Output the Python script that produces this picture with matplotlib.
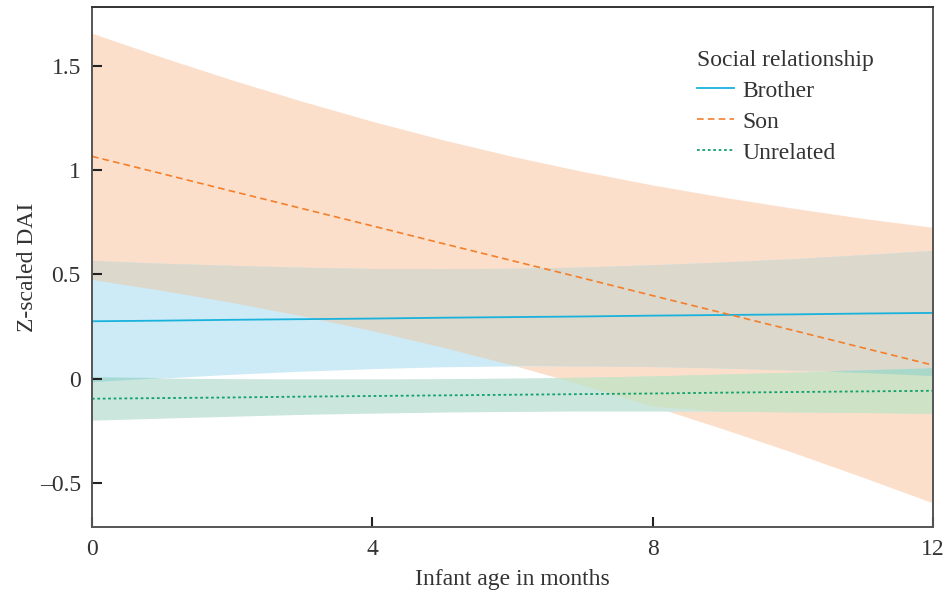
import numpy as np
import matplotlib
matplotlib.use("Agg")
import matplotlib.pyplot as plt

# values, one per month
age = [0, 1, 2, 3, 4, 5, 6, 7, 8, 9, 10, 11, 12]

brother_fit = [0.275, 0.278, 0.282, 0.285, 0.288, 0.292, 0.295, 0.298, 0.302, 0.305, 0.308, 0.312, 0.315]
brother_hi = [0.567, 0.553, 0.543, 0.534, 0.528, 0.527, 0.529, 0.535, 0.546, 0.559, 0.575, 0.594, 0.615]
brother_lo = [-0.017, 0.003, 0.021, 0.036, 0.048, 0.057, 0.061, 0.061, 0.058, 0.051, 0.041, 0.030, 0.015]

son_fit = [1.065, 0.982, 0.898, 0.815, 0.732, 0.648, 0.565, 0.482, 0.398, 0.315, 0.232, 0.148, 0.065]
son_hi = [1.655, 1.540, 1.431, 1.329, 1.233, 1.145, 1.065, 0.993, 0.928, 0.870, 0.817, 0.768, 0.725]
son_lo = [0.475, 0.423, 0.365, 0.301, 0.230, 0.151, 0.065, -0.029, -0.132, -0.240, -0.353, -0.472, -0.595]

unrel_fit = [-0.096, -0.093, -0.090, -0.086, -0.083, -0.080, -0.077, -0.074, -0.071, -0.067, -0.064, -0.061, -0.058]
unrel_hi = [0.007, 0.003, 0.000, -0.001, -0.001, 0.000, 0.003, 0.007, 0.013, 0.022, 0.031, 0.040, 0.050]
unrel_lo = [-0.199, -0.189, -0.180, -0.171, -0.165, -0.160, -0.157, -0.155, -0.155, -0.156, -0.159, -0.162, -0.166]

x_ticks = [0, 4, 8, 12]
y_ticks = [-0.5, 0, 0.5, 1, 1.5]
y_tick_labels = ["\u20130.5", "0", "0.5", "1", "1.5"]

plt.rcParams['font.family'] = ['Liberation Serif', 'DejaVu Serif']
FS = 17

# flat colours for each band and each overlap
col_son = "#fcdfca"
col_bro = "#cdebf6"
col_unr = "#cbe6dd"
col_son_bro = "#dcd8cc"
col_son_unr = "#cee2c5"
col_bro_unr = "#a6dad4"
col_all = "#a9d8c9"


def overlap(ax, bands, color):
    lo = np.max([np.array(b[0]) for b in bands], axis=0)
    hi = np.min([np.array(b[1]) for b in bands], axis=0)
    ax.fill_between(age, lo, hi, where=hi > lo, interpolate=True,
                    color=color, lw=0)


fig = plt.figure(figsize=(9.48, 5.92), dpi=100)
ax = fig.add_axes([0.097, 0.110, 0.887, 0.878])

son = (son_lo, son_hi)
bro = (brother_lo, brother_hi)
unr = (unrel_lo, unrel_hi)

ax.fill_between(age, son_lo, son_hi, color=col_son, lw=0)
ax.fill_between(age, brother_lo, brother_hi, color=col_bro, lw=0)
ax.fill_between(age, unrel_lo, unrel_hi, color=col_unr, lw=0)
overlap(ax, [son, bro], col_son_bro)
overlap(ax, [son, unr], col_son_unr)
overlap(ax, [bro, unr], col_bro_unr)
overlap(ax, [son, bro, unr], col_all)

ax.plot(age, brother_fit, color="#19b2dc", lw=1.3, label="Brother")
ax.plot(age, son_fit, color="#f47f2b", lw=1.2, ls=(0, (4, 2.5)), label="Son")
ax.plot(age, unrel_fit, color="#12a06c", lw=1.3, ls=(0, (1.5, 1.5)), label="Unrelated")

ax.set_xlim(0, 12)
ax.set_ylim(-0.71, 1.78)
ax.set_xticks(x_ticks)
ax.set_yticks(y_ticks)
ax.set_yticklabels(y_tick_labels)
ax.tick_params(direction="in", length=7, width=1.5, labelsize=FS, color="#222222",
               labelcolor="#333333")
ax.tick_params(axis="x", pad=9)
ax.tick_params(axis="y", pad=8)
for side in ["left", "bottom", "right", "top"]:
    ax.spines[side].set_color("#555555")
    ax.spines[side].set_linewidth(1.4)
ax.spines["top"].set_color("#333333")

ax.set_xlabel("Infant age in months", fontsize=FS, color="#333333", labelpad=6)
ax.set_ylabel("Z-scaled DAI", fontsize=FS, color="#333333", labelpad=1)

leg = ax.legend(title="Social relationship", loc="upper left", frameon=False,
                fontsize=FS, title_fontsize=FS, handlelength=1.6,
                handletextpad=0.35, labelspacing=0.4, borderpad=0,
                borderaxespad=0, bbox_to_anchor=(0.719, 0.918))
leg._legend_box.align = "left"
for t in leg.get_texts():
    t.set_color("#333333")
leg.get_title().set_color("#333333")

fig.savefig("out.png", dpi=100)
